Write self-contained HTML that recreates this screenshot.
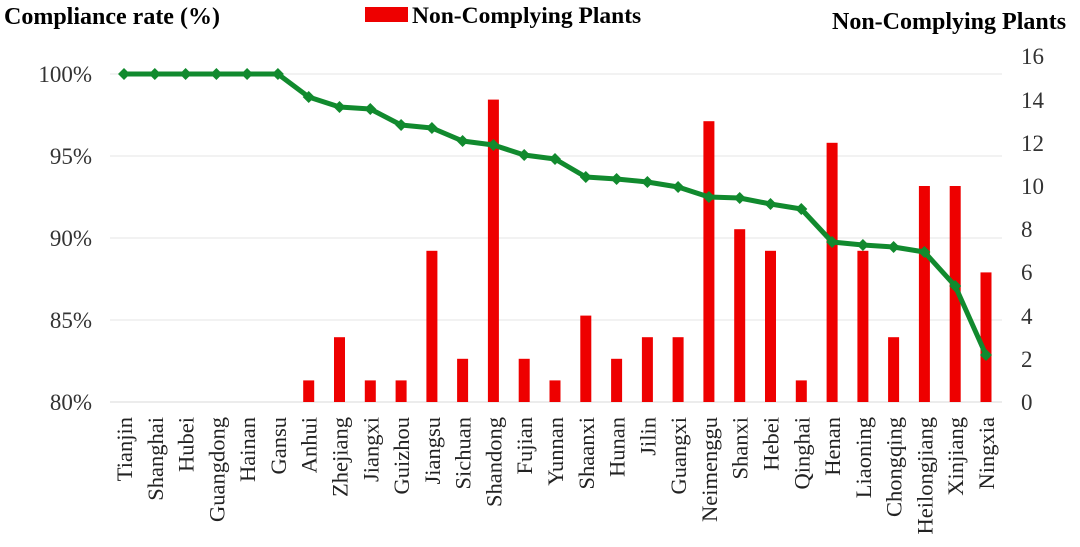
<!DOCTYPE html>
<html><head><style>body{margin:0;background:#fff}svg{display:block}</style></head><body>
<svg width="1080" height="547" xmlns="http://www.w3.org/2000/svg" font-family="Liberation Serif, serif">
<defs><marker id="d" markerWidth="12" markerHeight="12" refX="6" refY="6" markerUnits="userSpaceOnUse"><path d="M6 0 L12 6 L6 12 L0 6 Z" fill="#118a2e"/></marker></defs>
<text x="4" y="24" font-size="24" font-weight="bold">Compliance rate (%)</text>
<rect x="365" y="7" width="43" height="15" fill="#e00"/>
<text x="412" y="23" font-size="23.5" font-weight="bold">Non-Complying Plants</text>
<text x="832" y="29" font-size="24" font-weight="bold">Non-Complying Plants</text>
<g stroke="#e6e6e6" stroke-width="1">
<line x1="110" y1="74" x2="1002" y2="74"/><line x1="110" y1="156" x2="1002" y2="156"/><line x1="110" y1="238" x2="1002" y2="238"/><line x1="110" y1="320" x2="1002" y2="320"/><line x1="110" y1="402" x2="1002" y2="402" stroke="#d9d9d9"/>
</g>
<g font-size="23" fill="#333" text-anchor="end">
<text x="92" y="82">100%</text><text x="92" y="164">95%</text><text x="92" y="246">90%</text><text x="92" y="328">85%</text><text x="92" y="410">80%</text>
</g>
<g font-size="23" fill="#333">
<text x="1021" y="64">16</text><text x="1021" y="108">14</text><text x="1021" y="151">12</text><text x="1021" y="194">10</text><text x="1021" y="237">8</text><text x="1021" y="280">6</text><text x="1021" y="324">4</text><text x="1021" y="367">2</text><text x="1021" y="410">0</text>
</g>
<g fill="#e00">
<rect x="303.2" y="380.4" width="11" height="21.6"/>
<rect x="334" y="337.2" width="11" height="64.8"/>
<rect x="364.8" y="380.4" width="11" height="21.6"/>
<rect x="395.6" y="380.4" width="11" height="21.6"/>
<rect x="426.4" y="250.8" width="11" height="151.2"/>
<rect x="457.1" y="358.8" width="11" height="43.2"/>
<rect x="487.9" y="99.6" width="11" height="302.4"/>
<rect x="518.7" y="358.8" width="11" height="43.2"/>
<rect x="549.5" y="380.4" width="11" height="21.6"/>
<rect x="580.3" y="315.6" width="11" height="86.4"/>
<rect x="611.1" y="358.8" width="11" height="43.2"/>
<rect x="641.9" y="337.2" width="11" height="64.8"/>
<rect x="672.6" y="337.2" width="11" height="64.8"/>
<rect x="703.4" y="121.2" width="11" height="280.8"/>
<rect x="734.2" y="229.2" width="11" height="172.8"/>
<rect x="765" y="250.8" width="11" height="151.2"/>
<rect x="795.8" y="380.4" width="11" height="21.6"/>
<rect x="826.6" y="142.8" width="11" height="259.2"/>
<rect x="857.4" y="250.8" width="11" height="151.2"/>
<rect x="888.1" y="337.2" width="11" height="64.8"/>
<rect x="918.9" y="186" width="11" height="216"/>
<rect x="949.7" y="186" width="11" height="216"/>
<rect x="980.5" y="272.4" width="11" height="129.6"/>
</g>
<polyline points="124,74 154.8,74 185.6,74 216.4,74 247.1,74 277.9,74 308.7,97 339.5,107 370.3,109 401.1,125 431.9,128 462.6,141 493.4,145 524.2,155 555,159 585.8,177 616.6,179 647.4,182 678.1,187 708.9,197 739.7,198 770.5,204 801.3,209 832.1,242 862.9,245 893.6,247 924.4,252 955.2,286 986,355" fill="none" stroke="#118a2e" stroke-width="5" stroke-linejoin="round" marker-start="url(#d)" marker-mid="url(#d)" marker-end="url(#d)"/>
<g font-size="22.5" fill="#222" text-anchor="end">
<text transform="translate(132,417) rotate(-90)">Tianjin</text>
<text transform="translate(162.8,417) rotate(-90)">Shanghai</text>
<text transform="translate(193.6,417) rotate(-90)">Hubei</text>
<text transform="translate(224.4,417) rotate(-90)">Guangdong</text>
<text transform="translate(255.1,417) rotate(-90)">Hainan</text>
<text transform="translate(285.9,417) rotate(-90)">Gansu</text>
<text transform="translate(316.7,417) rotate(-90)">Anhui</text>
<text transform="translate(347.5,417) rotate(-90)">Zhejiang</text>
<text transform="translate(378.3,417) rotate(-90)">Jiangxi</text>
<text transform="translate(409.1,417) rotate(-90)">Guizhou</text>
<text transform="translate(439.9,417) rotate(-90)">Jiangsu</text>
<text transform="translate(470.6,417) rotate(-90)">Sichuan</text>
<text transform="translate(501.4,417) rotate(-90)">Shandong</text>
<text transform="translate(532.2,417) rotate(-90)">Fujian</text>
<text transform="translate(563,417) rotate(-90)">Yunnan</text>
<text transform="translate(593.8,417) rotate(-90)">Shaanxi</text>
<text transform="translate(624.6,417) rotate(-90)">Hunan</text>
<text transform="translate(655.4,417) rotate(-90)">Jilin</text>
<text transform="translate(686.1,417) rotate(-90)">Guangxi</text>
<text transform="translate(716.9,417) rotate(-90)">Neimenggu</text>
<text transform="translate(747.7,417) rotate(-90)">Shanxi</text>
<text transform="translate(778.5,417) rotate(-90)">Hebei</text>
<text transform="translate(809.3,417) rotate(-90)">Qinghai</text>
<text transform="translate(840.1,417) rotate(-90)">Henan</text>
<text transform="translate(870.9,417) rotate(-90)">Liaoning</text>
<text transform="translate(901.6,417) rotate(-90)">Chongqing</text>
<text transform="translate(932.4,417) rotate(-90)">Heilongjiang</text>
<text transform="translate(963.2,417) rotate(-90)">Xinjiang</text>
<text transform="translate(994,417) rotate(-90)">Ningxia</text>
</g>
</svg>
</body></html>
